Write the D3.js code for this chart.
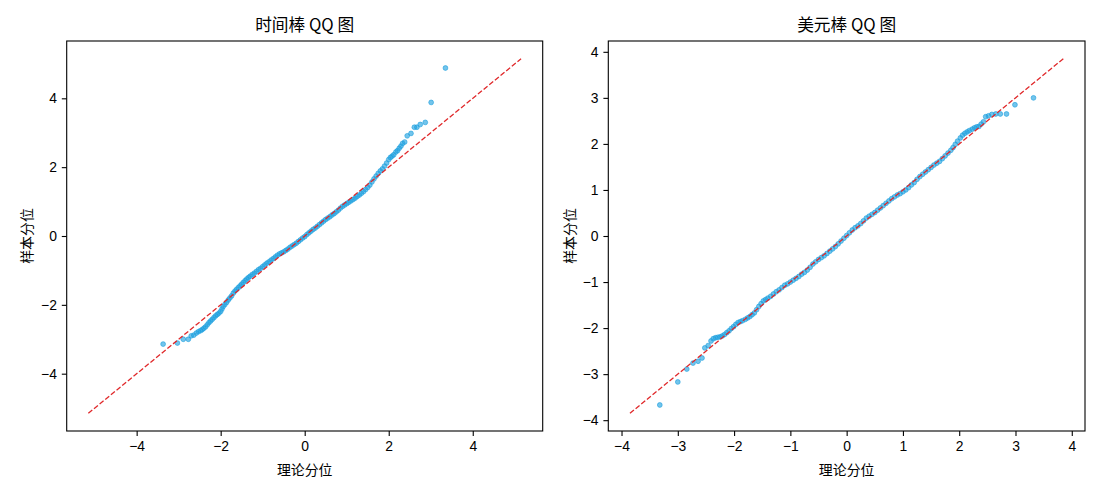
<!DOCTYPE html>
<html>
<head>
<meta charset="utf-8">
<script src="https://cdn.jsdelivr.net/npm/d3@7"></script>
<style>
  body { margin: 0; background: #fff; }
  text { fill: #000; }
  .tick text { font-family: "Liberation Sans", "Noto Sans CJK SC", sans-serif; font-size: 13.9px; }
  .title { font-family: "Noto Sans CJK SC", sans-serif; font-size: 16.7px; }
  .axis-label { font-family: "Noto Sans CJK SC", sans-serif; font-size: 13.9px; }
</style>
</head>
<body>
<div id="chart"></div>
<script>
// titles and labels
var titles = ["时间棒 QQ 图", "美元棒 QQ 图"];
var xLabel = "理论分位";
var yLabel = "样本分位";

// tick values
var timeTicks = [-4, -2, 0, 2, 4];
var dollarTicks = [-4, -3, -2, -1, 0, 1, 2, 3, 4];

// reference line ends (y = x)
var timeLine = [-5.15, 5.15];
var dollarLine = [-3.85, 3.85];

// [theoretical quantile, sample quantile]
var timeQQ = [
  [-3.37, -3.14], [-3.03, -3.11], [-2.89, -3.00], [-2.77, -3.00], [-2.70, -2.90],
  [-2.64, -2.88], [-2.58, -2.82], [-2.53, -2.78], [-2.48, -2.75], [-2.44, -2.72],
  [-2.40, -2.68], [-2.36, -2.64], [-2.32, -2.58], [-2.28, -2.52], [-2.24, -2.47],
  [-2.20, -2.42], [-2.16, -2.37], [-2.12, -2.32], [-2.08, -2.28], [-2.04, -2.24],
  [-2.00, -2.19], [-1.97, -2.12], [-1.94, -2.05], [-1.90, -1.99], [-1.86, -1.93],
  [-1.82, -1.86], [-1.78, -1.80], [-1.74, -1.74], [-1.70, -1.66], [-1.66, -1.60],
  [-1.62, -1.55], [-1.58, -1.50], [-1.54, -1.45], [-1.50, -1.40], [-1.46, -1.35],
  [-1.42, -1.30], [-1.38, -1.25], [-1.34, -1.21], [-1.30, -1.17], [-1.25, -1.12],
  [-1.20, -1.08], [-1.15, -1.03], [-1.10, -0.98], [-1.05, -0.94], [-1.00, -0.89],
  [-0.95, -0.84], [-0.90, -0.79], [-0.85, -0.75], [-0.80, -0.70], [-0.75, -0.66],
  [-0.70, -0.61], [-0.65, -0.56], [-0.60, -0.52], [-0.55, -0.49], [-0.50, -0.46],
  [-0.45, -0.42], [-0.40, -0.38], [-0.35, -0.33], [-0.30, -0.29], [-0.25, -0.25],
  [-0.20, -0.21], [-0.15, -0.16], [-0.10, -0.11], [-0.05, -0.06], [0.00, -0.02],
  [0.05, 0.04], [0.10, 0.09], [0.15, 0.14], [0.20, 0.19], [0.25, 0.23],
  [0.30, 0.28], [0.35, 0.33], [0.40, 0.38], [0.45, 0.43], [0.50, 0.48],
  [0.55, 0.52], [0.60, 0.56], [0.65, 0.61], [0.70, 0.65], [0.75, 0.70],
  [0.80, 0.75], [0.85, 0.81], [0.90, 0.86], [0.95, 0.90], [1.00, 0.94],
  [1.05, 0.98], [1.10, 1.02], [1.15, 1.06], [1.20, 1.10], [1.25, 1.15],
  [1.30, 1.19], [1.35, 1.24], [1.40, 1.29], [1.45, 1.35], [1.50, 1.41],
  [1.55, 1.48], [1.60, 1.57], [1.65, 1.66], [1.70, 1.74], [1.75, 1.82],
  [1.80, 1.89], [1.85, 1.95], [1.90, 2.03], [1.95, 2.12], [2.00, 2.22],
  [2.04, 2.28], [2.08, 2.32], [2.12, 2.36], [2.17, 2.44], [2.21, 2.48],
  [2.25, 2.55], [2.29, 2.61], [2.33, 2.69], [2.38, 2.73], [2.44, 2.91],
  [2.53, 2.98], [2.61, 3.16], [2.67, 3.16], [2.75, 3.24], [2.87, 3.30],
  [3.01, 3.88], [3.35, 4.88]
];

var dollarQQ = [
  [-3.32, -3.67], [-3.00, -3.17], [-2.84, -2.89], [-2.73, -2.76], [-2.64, -2.72],
  [-2.57, -2.65], [-2.52, -2.43], [-2.46, -2.38], [-2.41, -2.28], [-2.37, -2.23],
  [-2.33, -2.21], [-2.29, -2.20], [-2.25, -2.19], [-2.21, -2.17], [-2.17, -2.14],
  [-2.13, -2.10], [-2.09, -2.06], [-2.05, -2.01], [-2.01, -1.97], [-1.97, -1.92],
  [-1.93, -1.88], [-1.89, -1.86], [-1.85, -1.84], [-1.80, -1.81], [-1.76, -1.78],
  [-1.72, -1.75], [-1.68, -1.71], [-1.64, -1.67], [-1.60, -1.60], [-1.56, -1.53],
  [-1.52, -1.47], [-1.48, -1.41], [-1.44, -1.38], [-1.40, -1.35], [-1.35, -1.31],
  [-1.30, -1.26], [-1.25, -1.21], [-1.20, -1.17], [-1.15, -1.12], [-1.10, -1.07],
  [-1.05, -1.04], [-1.00, -1.00], [-0.95, -0.96], [-0.90, -0.92], [-0.85, -0.88],
  [-0.80, -0.83], [-0.75, -0.79], [-0.70, -0.74], [-0.65, -0.68], [-0.60, -0.61],
  [-0.55, -0.56], [-0.50, -0.51], [-0.45, -0.47], [-0.40, -0.43], [-0.35, -0.38],
  [-0.30, -0.33], [-0.25, -0.28], [-0.20, -0.23], [-0.15, -0.17], [-0.10, -0.11],
  [-0.05, -0.05], [0.00, 0.01], [0.05, 0.07], [0.10, 0.13], [0.15, 0.18],
  [0.20, 0.22], [0.25, 0.27], [0.30, 0.33], [0.35, 0.39], [0.40, 0.43],
  [0.45, 0.47], [0.50, 0.51], [0.55, 0.56], [0.60, 0.61], [0.65, 0.66],
  [0.70, 0.71], [0.75, 0.76], [0.80, 0.81], [0.85, 0.85], [0.90, 0.89],
  [0.95, 0.92], [1.00, 0.96], [1.05, 1.00], [1.10, 1.05], [1.15, 1.11],
  [1.20, 1.16], [1.25, 1.23], [1.30, 1.29], [1.35, 1.34], [1.40, 1.39],
  [1.45, 1.44], [1.50, 1.49], [1.55, 1.54], [1.60, 1.58], [1.65, 1.62],
  [1.70, 1.68], [1.75, 1.74], [1.80, 1.80], [1.85, 1.86], [1.89, 1.92],
  [1.93, 1.99], [1.97, 2.06], [2.02, 2.13], [2.06, 2.19], [2.10, 2.23],
  [2.14, 2.26], [2.18, 2.29], [2.23, 2.32], [2.27, 2.35], [2.31, 2.37],
  [2.35, 2.38], [2.39, 2.43], [2.43, 2.48], [2.47, 2.59], [2.52, 2.61],
  [2.58, 2.64], [2.65, 2.65], [2.73, 2.65], [2.84, 2.65], [2.99, 2.85],
  [3.32, 3.00]
];

var svgWidth = 1100;
var svgHeight = 495;
var pointColor = "#1d9fdf";
var lineColor = "#e0282a";

var svg = d3.select("#chart")
    .append("svg")
    .attr("width", svgWidth)
    .attr("height", svgHeight);

// one panel: box in page pixels, data, ticks, line ends
function drawPanel(box, data, ticks, lineEnds, title, yLabelX) {
    var lim = lineEnds[1] + 0.05 * (lineEnds[1] - lineEnds[0]);

    var x = d3.scaleLinear().domain([-lim, lim]).range([box.left, box.right]);
    var y = d3.scaleLinear().domain([-lim, lim]).range([box.bottom, box.top]);

    var g = svg.append("g");

    // axes
    g.append("g")
        .attr("transform", "translate(0," + box.bottom + ")")
        .call(d3.axisBottom(x).tickValues(ticks).tickSize(4.9).tickSizeOuter(0).tickPadding(5.5))
        .call(a => a.select(".domain").remove())
        .call(a => a.selectAll(".tick line").attr("stroke", "#000").attr("stroke-width", 1.1));

    g.append("g")
        .attr("transform", "translate(" + box.left + ",0)")
        .call(d3.axisLeft(y).tickValues(ticks).tickSize(4.9).tickSizeOuter(0).tickPadding(4.9))
        .call(a => a.select(".domain").remove())
        .call(a => a.selectAll(".tick line").attr("stroke", "#000").attr("stroke-width", 1.1));

    // points
    g.append("g")
        .selectAll("circle")
        .data(data)
        .enter()
        .append("circle")
        .attr("cx", d => x(d[0]))
        .attr("cy", d => y(d[1]))
        .attr("r", 2.4)
        .attr("fill", pointColor)
        .attr("fill-opacity", 0.62)
        .attr("stroke", pointColor)
        .attr("stroke-opacity", 0.62)
        .attr("stroke-width", 1);

    // reference line
    g.append("line")
        .attr("x1", x(lineEnds[0]))
        .attr("y1", y(lineEnds[0]))
        .attr("x2", x(lineEnds[1]))
        .attr("y2", y(lineEnds[1]))
        .attr("stroke", lineColor)
        .attr("stroke-width", 1.3)
        .attr("stroke-dasharray", "5.1,2.2");

    // frame
    g.append("rect")
        .attr("x", box.left)
        .attr("y", box.top)
        .attr("width", box.right - box.left)
        .attr("height", box.bottom - box.top)
        .attr("fill", "none")
        .attr("stroke", "#000")
        .attr("stroke-width", 1.1);

    // texts
    g.append("text")
        .attr("class", "title")
        .attr("x", (box.left + box.right) / 2)
        .attr("y", 31)
        .attr("text-anchor", "middle")
        .text(title);

    g.append("text")
        .attr("class", "axis-label")
        .attr("x", (box.left + box.right) / 2)
        .attr("y", 475)
        .attr("text-anchor", "middle")
        .text(xLabel);

    g.append("text")
        .attr("class", "axis-label")
        .attr("transform", "translate(" + yLabelX + "," + ((box.top + box.bottom) / 2) + ") rotate(-90)")
        .attr("text-anchor", "middle")
        .attr("dy", "0.35em")
        .text(yLabel);
}

drawPanel({left: 66.7, right: 542.7, top: 41, bottom: 431}, timeQQ, timeTicks, timeLine, titles[0], 27);
drawPanel({left: 608.3, right: 1085, top: 41, bottom: 431}, dollarQQ, dollarTicks, dollarLine, titles[1], 570);
</script>
</body>
</html>
